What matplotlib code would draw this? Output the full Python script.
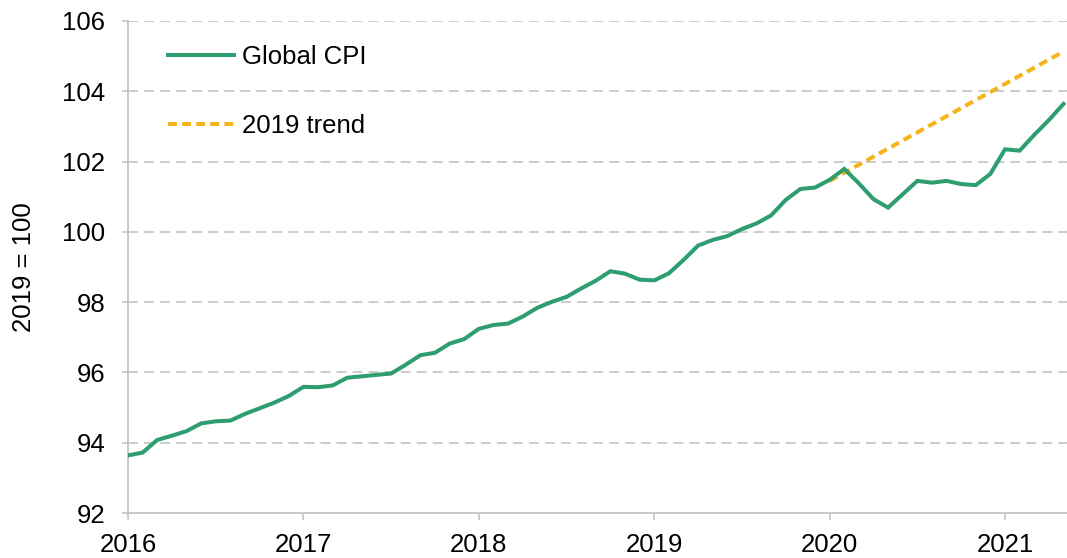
import numpy as np
import matplotlib
matplotlib.use('Agg')
import matplotlib.pyplot as plt

# monthly global CPI, Jan 2016 - May 2021 (2019 = 100)
cpi_2016 = [93.64, 93.72, 94.08, 94.20, 94.33, 94.55, 94.61, 94.63, 94.82, 94.98, 95.14, 95.33]
cpi_2017 = [95.59, 95.58, 95.63, 95.85, 95.89, 95.93, 95.97, 96.22, 96.49, 96.56, 96.82, 96.95]
cpi_2018 = [97.24, 97.35, 97.39, 97.59, 97.84, 98.01, 98.15, 98.39, 98.61, 98.88, 98.81, 98.64]
cpi_2019 = [98.62, 98.82, 99.20, 99.61, 99.77, 99.88, 100.08, 100.24, 100.47, 100.91, 101.22, 101.26]
cpi_2020 = [101.48, 101.79, 101.38, 100.93, 100.69, 101.07, 101.45, 101.40, 101.45, 101.36, 101.33, 101.65]
cpi_2021 = [102.35, 102.31, 102.76, 103.18, 103.64]

# 2019 trend extrapolated, Jan 2020 - May 2021
trend = [101.45, 101.68, 101.91, 102.14, 102.37, 102.60, 102.83, 103.06, 103.29,
         103.52, 103.75, 103.98, 104.21, 104.44, 104.67, 104.90, 105.13]

year_ticks = [2016, 2017, 2018, 2019, 2020, 2021]
y_ticks = [92, 94, 96, 98, 100, 102, 104, 106]

cpi = cpi_2016 + cpi_2017 + cpi_2018 + cpi_2019 + cpi_2020 + cpi_2021
x_cpi = 2016 + np.arange(len(cpi)) / 12
x_trend = 2020 + np.arange(len(trend)) / 12

GREEN = '#2e9e70'
ORANGE = '#f4b51c'
GRAY = '#bfbfbf'
Fontsize = 18.5

plt.rcParams['font.family'] = ['Liberation Sans', 'DejaVu Sans']

fig = plt.figure(figsize=(10.67, 5.58), dpi=100)
ax = fig.add_axes([0.12, 0.0806, 0.88, 0.8818])

for y in y_ticks[1:]:
    ax.axhline(y, color=GRAY, linewidth=1.1, linestyle=(0, (6.5, 4)), zorder=1)

ax.plot(x_cpi, cpi, color=GREEN, linewidth=2.9, label='Global CPI', zorder=3,
        solid_joinstyle='miter')
ax.plot(x_trend, trend, color=ORANGE, linewidth=2.9, linestyle=(0, (2.2, 1.3)),
        label='2019 trend', zorder=2)

ax.set_xlim(2016, 2016 + 64.24 / 12)
ax.set_ylim(92, 106)
ax.set_xticks(year_ticks)
ax.set_xticklabels([str(y) for y in year_ticks])
ax.set_yticks(y_ticks)

for s in ['top', 'right']:
    ax.spines[s].set_visible(False)
for s in ['left', 'bottom']:
    ax.spines[s].set_color(GRAY)
    ax.spines[s].set_linewidth(1.2)

ax.tick_params(axis='x', direction='out', length=5, width=1.1, color=GRAY,
               labelsize=Fontsize, pad=9.5)
ax.tick_params(axis='y', direction='out', length=4.5, width=1.1, color=GRAY,
               labelsize=Fontsize, pad=12)
ax.set_ylabel('2019 = 100', fontsize=Fontsize, labelpad=19)

leg = ax.legend(loc='upper left', bbox_to_anchor=(0.0175, 0.998), frameon=False,
                fontsize=Fontsize, handlelength=2.6, handletextpad=0.3,
                labelspacing=1.75)

fig.savefig('out.png', dpi=100)
